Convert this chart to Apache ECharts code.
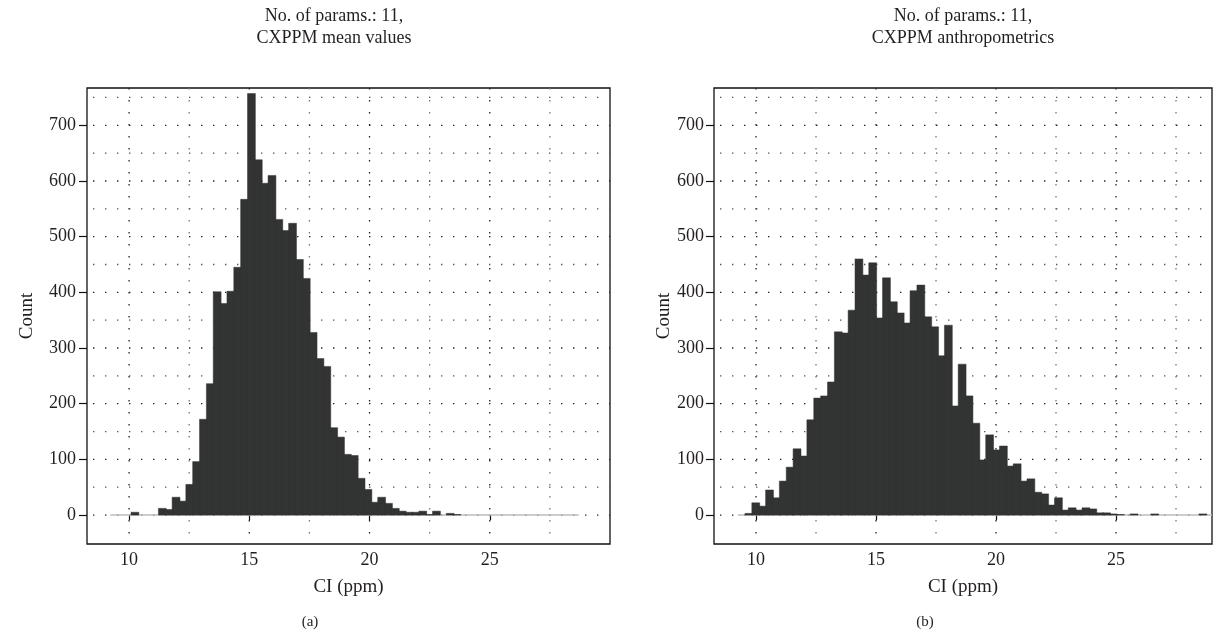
<!DOCTYPE html>
<html>
<head>
<meta charset="utf-8">
<script src="https://cdn.jsdelivr.net/npm/echarts@6/dist/echarts.min.js"></script>
<style>
    html,body{margin:0;padding:0;background:#fff;}
    #chart{width:1226px;height:641px;}
</style>
</head>
<body>
<div id="chart"></div>
<script>
    // (a) CXPPM mean values - histogram bins
    const binStartA = 10.08
    const binWidthA = 0.285
    const countsA = [5,0,0,0,12,10,32,25,55,96,172,236,401,380,402,445,567,757,638,596,610,531,511,524,459,425,328,281,267,157,140,109,107,66,46,23,32,21,12,7,5,5,7,1,7,0,3,1]
    const zeroSpanA = [9.22, 28.7]

    // (b) CXPPM anthropometrics - histogram bins
    const binStartB = 9.54
    const binWidthB = 0.2866
    const countsB = [3,22,16,45,31,61,86,119,106,171,210,214,239,329,327,368,460,431,453,354,426,383,363,345,403,413,356,338,286,341,196,271,214,165,99,144,117,124,88,92,61,65,41,38,18,31,9,13,9,13,11,4,4,2,1,0,2,0,0,2,0,0,0,0,0,0,2]
    const zeroSpanB = [9.25, 29.0]

    const xTicks = [10, 15, 20, 25]
    const yTicks = [0, 100, 200, 300, 400, 500, 600, 700]
    const xGridLines = [10, 12.5, 15, 17.5, 20, 22.5, 25, 27.5]
    const yGridLines = [0, 50, 100, 150, 200, 250, 300, 350, 400, 450, 500, 550, 600, 650, 700, 750]

    const titleA = 'No. of params.: 11,\nCXPPM mean values'
    const titleB = 'No. of params.: 11,\nCXPPM anthropometrics'

    const FONT = 'Liberation Serif'
    const INK = '#231f20'
    const Y_MIN = -52, Y_MAX = 767

    const panels = [
        {start: binStartA, width: binWidthA, counts: countsA, zero: zeroSpanA, xMin: 8.25, xMax: 30, left: 87, right: 1226 - 610, nameGap: 50, labelGap: 11},
        {start: binStartB, width: binWidthB, counts: countsB, zero: zeroSpanB, xMin: 8.25, xMax: 29, left: 714, right: 1226 - 1212, nameGap: 40, labelGap: 10}
    ]

    const chart = echarts.init(document.getElementById('chart'))

    const grid = [], xAxis = [], yAxis = [], series = []
    panels.forEach((p, i) => {
        grid.push({left: p.left, right: p.right, top: 88, bottom: 641 - 544, show: true, borderColor: '#111', borderWidth: 1.3, backgroundColor: 'transparent'})
        xAxis.push({
            gridIndex: i, type: 'value', min: p.xMin, max: p.xMax,
            axisLine: {show: false},
            axisTick: {show: true, customValues: xTicks, length: 5, lineStyle: {color: '#111', width: 1.2}},
            axisLabel: {customValues: xTicks, fontFamily: FONT, fontSize: 18, color: INK, margin: 7},
            splitLine: {show: false},
            name: 'CI (ppm)', nameLocation: 'middle', nameGap: 34,
            nameTextStyle: {fontFamily: FONT, fontSize: 19, color: INK}
        })
        yAxis.push({
            gridIndex: i, type: 'value', min: Y_MIN, max: Y_MAX,
            axisLine: {show: false},
            axisTick: {show: true, customValues: yTicks, length: 8, lineStyle: {color: '#111', width: 1.2}},
            axisLabel: {customValues: yTicks, fontFamily: FONT, fontSize: 18, color: INK, margin: p.labelGap},
            splitLine: {show: false},
            name: 'Count', nameLocation: 'middle', nameGap: p.nameGap, nameRotate: 90,
            nameTextStyle: {fontFamily: FONT, fontSize: 19, color: INK}
        })

        // dotted grid - vertical
        series.push({
            type: 'custom', xAxisIndex: i, yAxisIndex: i, silent: true, z: 1,
            data: xGridLines.map(v => [v]),
            renderItem(params, api) {
                const v = api.value(0)
                const a = api.coord([v, Y_MAX])
                const b = api.coord([v, Y_MIN])
                const major = v % 5 === 0
                return {type: 'line', shape: {x1: a[0], y1: a[1], x2: b[0], y2: b[1]},
                    style: {stroke: major ? '#222' : '#777', lineWidth: 1.3, lineDash: [1.4, 10.6]}}
            }
        })
        // dotted grid - horizontal
        series.push({
            type: 'custom', xAxisIndex: i, yAxisIndex: i, silent: true, z: 1,
            data: yGridLines.map(v => [p.xMin, v]),
            renderItem(params, api) {
                const v = api.value(1)
                const a = api.coord([p.xMin, v])
                const b = api.coord([p.xMax, v])
                return {type: 'line', shape: {x1: a[0] + 6, y1: a[1], x2: b[0], y2: b[1]},
                    style: {stroke: v % 100 === 0 ? '#222' : '#555', lineWidth: 1.3, lineDash: [1.4, 10.6]}}
            }
        })
        // empty bins along zero
        series.push({
            type: 'line', xAxisIndex: i, yAxisIndex: i, silent: true, z: 2,
            data: [[p.zero[0], 0], [p.zero[1], 0]],
            symbol: 'none', lineStyle: {color: '#bdbdbd', width: 1.5}
        })
        // histogram bars
        series.push({
            type: 'custom', xAxisIndex: i, yAxisIndex: i, silent: true, z: 3,
            data: p.counts.map((c, k) => [p.start + k * p.width, p.start + (k + 1) * p.width, c]),
            encode: {x: [0, 1], y: 2},
            renderItem(params, api) {
                const c = api.value(2)
                if (!c) return null
                const a = api.coord([api.value(0), c])
                const b = api.coord([api.value(1), 0])
                return {type: 'rect', shape: {x: a[0], y: a[1], width: b[0] - a[0] + 1, height: b[1] - a[1]},
                    style: {fill: '#323333', stroke: '#323333', lineWidth: 0.5}}
            }
        })
    })

    chart.setOption({
        animation: false,
        grid: grid,
        xAxis: xAxis,
        yAxis: yAxis,
        series: series,
        graphic: [
            {type: 'text', x: 334, y: 5, style: {text: titleA, textAlign: 'center', fontFamily: FONT, fontSize: 18, lineHeight: 22, fill: INK}},
            {type: 'text', x: 963, y: 5, style: {text: titleB, textAlign: 'center', fontFamily: FONT, fontSize: 18, lineHeight: 22, fill: INK}},
            {type: 'text', x: 310, y: 615, style: {text: '(a)', textAlign: 'center', fontFamily: FONT, fontSize: 15, fill: INK}},
            {type: 'text', x: 925, y: 615, style: {text: '(b)', textAlign: 'center', fontFamily: FONT, fontSize: 15, fill: INK}}
        ]
    })
</script>
</body>
</html>
